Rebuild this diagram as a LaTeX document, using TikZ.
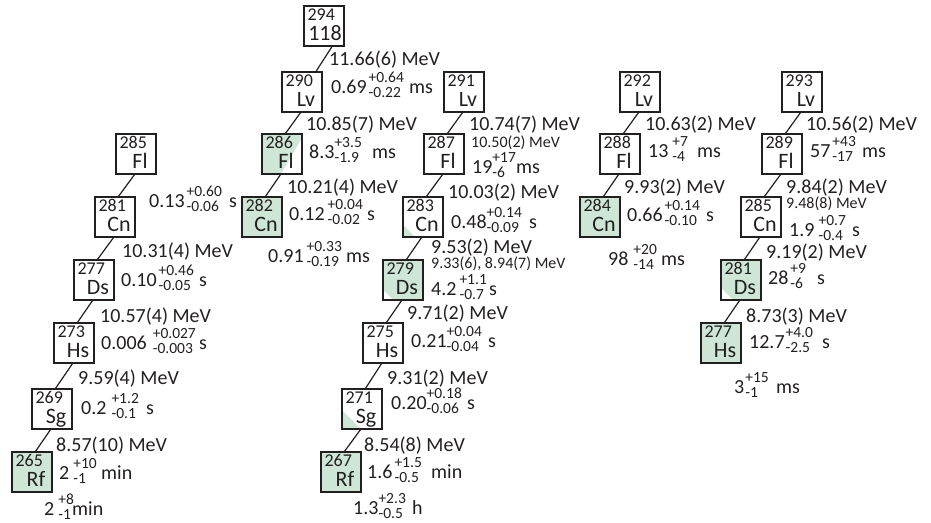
\documentclass[tikz,border=0pt]{standalone}
\usepackage{fontspec}
\setmainfont{Carlito}
\definecolor{sfg}{RGB}{205,230,213}
\definecolor{ink}{RGB}{35,31,32}
\newlength\supw
\newcommand\supsub[2]{%
  \setbox0=\hbox{\fontsize{15.5}{16}\selectfont #1}%
  \setbox2=\hbox{\fontsize{15.5}{16}\selectfont #2}%
  \ifdim\wd0>\wd2 \supw=\wd0 \else \supw=\wd2 \fi
  \hbox to\supw{\rlap{\raisebox{10.5pt}{\copy0}}\raisebox{-4pt}{\copy2}\hfil}}
% width to unit, base, kern, sup, sub, unit
\newcommand\hl[6]{\makebox[#1][l]{#2\kern#3\supsub{#4}{#5}}#6}
\tikzset{
  nucbox/.style={draw=ink, line width=1.2pt, minimum size=40pt, inner sep=0pt},
  sfbl/.style={path picture={\fill[sfg] (path picture bounding box.south west) -- ([xshift=#1]path picture bounding box.south west) -- ([yshift=#1]path picture bounding box.south west) -- cycle;}},
  wbl/.style={fill=sfg, path picture={\fill[white] (path picture bounding box.south west) -- ([xshift=#1]path picture bounding box.south west) -- ([yshift=#1]path picture bounding box.south west) -- cycle;}},
  wbr/.style 2 args={fill=sfg, path picture={\fill[white] (path picture bounding box.south east) -- ([xshift=-#1]path picture bounding box.south east) -- ([yshift=#2]path picture bounding box.south east) -- cycle;}},
  full/.style={fill=sfg},
  massnum/.style={anchor=base west, inner sep=0pt, text=ink, font=\fontsize{18}{19}\selectfont},
  elem/.style={anchor=base, inner sep=0pt, text=ink, font=\fontsize{22}{24}\selectfont},
  txt/.style={anchor=base west, inner sep=0pt, text=ink, font=\fontsize{20}{24}\selectfont},
  stxt/.style={anchor=base west, inner sep=0pt, text=ink, font=\fontsize{16}{18}\selectfont},
  conn/.style={draw=ink, line width=1.2pt}
}
\newcommand\nuc[6]{%
  \node[nucbox,#6] (#1) at (#2,#3) {};
  \node[massnum] (#1-A) at ([xshift=4pt,yshift=-15pt]#1.north west) {#4};
  \node[elem] (#1-E) at ([xshift=4pt,yshift=6pt]#1.south) {#5};
}
\begin{document}
\begin{tikzpicture}[x=1pt,y=-1pt]
\useasboundingbox (0,0) rectangle (931,522);
% column A
\nuc{aFl}{136}{154}{285}{Fl}{}
\nuc{aCn}{115}{217}{281}{Cn}{}
\nuc{aDs}{94}{280}{277}{Ds}{}
\nuc{aHs}{74}{343}{273}{Hs}{}
\nuc{aSg}{52}{409}{269}{Sg}{}
\nuc{aRf}{32}{472}{265}{Rf}{full}
% column B
\nuc{b118}{324}{26}{294}{\kern-6pt118}{}
\nuc{bLv}{302}{92}{290}{Lv}{}
\nuc{bFl}{282}{154}{286}{Fl}{wbr={21pt}{36pt}}
\nuc{bCn}{262}{217}{282}{Cn}{full}
% column C
\nuc{cLv}{464}{92}{291}{Lv}{}
\nuc{cFl}{444}{154}{287}{Fl}{}
\nuc{cCn}{423}{217}{283}{Cn}{sfbl=12pt}
\nuc{cDs}{403}{280}{279}{Ds}{wbl=10pt}
\nuc{cHs}{383}{343}{275}{Hs}{}
\nuc{cSg}{362}{409}{271}{Sg}{sfbl=19pt}
\nuc{cRf}{341}{472}{267}{Rf}{full}
% column D
\nuc{dLv}{640}{92}{292}{Lv}{}
\nuc{dFl}{620}{154}{288}{Fl}{}
\nuc{dCn}{600}{217}{284}{Cn}{full}
% column E
\nuc{eLv}{802}{92}{293}{Lv}{}
\nuc{eFl}{782}{154}{289}{Fl}{}
\nuc{eCn}{761}{217}{285}{Cn}{}
\nuc{eDs}{741}{280}{281}{Ds}{wbl=12pt}
\nuc{eHs}{721}{343}{277}{Hs}{full}
% connectors
\draw[conn] ([xshift=8pt]b118.south) -- ([xshift=14pt]bLv.north);
\foreach \a/\b in {bLv/bFl, bFl/bCn, aFl/aCn, aCn/aDs, aDs/aHs, aHs/aSg, aSg/aRf,
  cLv/cFl, cFl/cCn, cCn/cDs, cDs/cHs, cHs/cSg, cSg/cRf, dLv/dFl, dFl/dCn,
  eLv/eFl, eFl/eCn, eCn/eDs, eDs/eHs}
  \draw[conn] ([xshift=-1.5pt]\a.south) -- ([xshift=3.5pt]\b.north);
% energies
\node[txt] (ea1) at (122,257) {10.31(4) MeV};
\node[txt] (ea2) at (100,322) {10.57(4) MeV};
\node[txt] (ea3) at (78,384) {9.59(4) MeV};
\node[txt] (ea4) at (56,451) {8.57(10) MeV};
\node[txt] (eb1) at (329,65) {11.66(6) MeV};
\node[txt] (eb2) at (306,130) {10.85(7) MeV};
\node[txt] (eb3) at (287,193) {10.21(4) MeV};
\node[txt] (ec1) at (469,130) {10.74(7) MeV};
\node[stxt] (ec1s) at (471,147) {10.50(2) MeV};
\node[txt] (ec2) at (448,198) {10.03(2) MeV};
\node[txt] (ec3) at (431,253) {9.53(2) MeV};
\node[stxt] (ec3s) at (431,268) {9.33(6), 8.94(7) MeV};
\node[txt] (ec4) at (407,319) {9.71(2) MeV};
\node[txt] (ec5) at (387,384) {9.31(2) MeV};
\node[txt] (ec6) at (364,451) {8.54(8) MeV};
\node[txt] (ed1) at (645,130) {10.63(2) MeV};
\node[txt] (ed2) at (624,193) {9.93(2) MeV};
\node[txt] (ee1) at (806,130) {10.56(2) MeV};
\node[txt] (ee2) at (786,193) {9.84(2) MeV};
\node[stxt] (ee2s) at (786,208) {9.48(8) MeV};
\node[txt] (ee3) at (766,258) {9.19(2) MeV};
\node[txt] (ee4) at (746,322) {8.73(3) MeV};
% half-lives
\node[txt] (ha1) at (149,207) {\hl{80pt}{0.13}{2pt}{+0.60}{-0.06}{s}};
\node[txt] (ha2) at (121,286) {\hl{78pt}{0.10}{2pt}{+0.46}{-0.05}{s}};
\node[txt] (ha3) at (101,349) {\hl{98pt}{0.006}{6pt}{+0.027}{-0.003}{s}};
\node[txt] (ha4) at (81,414) {\hl{65pt}{0.2}{5pt}{+1.2}{-0.1}{s}};
\node[txt] (ha5) at (59,479) {\hl{42pt}{2}{4pt}{+10}{-1}{min}};
\node[txt] (ha6) at (44,515) {\hl{28pt}{2}{4pt}{+8}{-1}{min}};
\node[txt] (hb1) at (331,93) {\hl{78pt}{0.69}{2pt}{+0.64}{-0.22}{ms}};
\node[txt] (hb2) at (309,158) {\hl{63pt}{8.3}{0pt}{+3.5}{-1.9}{ms}};
\node[txt] (hb3) at (289,220) {\hl{78pt}{0.12}{3pt}{+0.04}{-0.02}{s}};
\node[txt] (hb4) at (268,262) {\hl{78pt}{0.91}{3pt}{+0.33}{-0.19}{ms}};
\node[txt] (hc1) at (472,173) {\hl{44pt}{19}{0pt}{+17}{-6}{ms}};
\node[txt] (hc2) at (451,228) {\hl{78pt}{0.48}{0pt}{+0.14}{-0.09}{s}};
\node[txt] (hc3) at (431,295) {\hl{58pt}{4.2}{3pt}{+1.1}{-0.7}{s}};
\node[txt] (hc4) at (411,347) {\hl{77pt}{0.21}{0pt}{+0.04}{-0.04}{s}};
\node[txt] (hc5) at (391,409) {\hl{76pt}{0.20}{0pt}{+0.18}{-0.06}{s}};
\node[txt] (hc6) at (367,478) {\hl{64pt}{1.6}{2pt}{+1.5}{-0.5}{min}};
\node[txt] (hc7) at (353,514) {\hl{59pt}{1.3}{0pt}{+2.3}{-0.5}{h}};
\node[txt] (hd1) at (648,157) {\hl{49pt}{13}{4pt}{+7}{-4}{ms}};
\node[txt] (hd2) at (627,221) {\hl{79pt}{0.66}{2pt}{+0.14}{-0.10}{s}};
\node[txt] (hd3) at (608,265) {\hl{53pt}{98}{5pt}{+20}{-14}{ms}};
\node[txt] (he1) at (810,157) {\hl{52pt}{57}{2pt}{+43}{-17}{ms}};
\node[txt] (he2) at (789,236) {\hl{63pt}{1.9}{4pt}{+0.7}{-0.4}{s}};
\node[txt] (he3) at (768,284) {\hl{49pt}{28}{2pt}{+9}{-6}{s}};
\node[txt] (he4) at (749,348) {\hl{73pt}{12.7}{1pt}{+4.0}{-2.5}{s}};
\node[txt] (he5) at (734,393) {\hl{42pt}{3}{1pt}{+15}{-1}{ms}};
\end{tikzpicture}
\end{document}
